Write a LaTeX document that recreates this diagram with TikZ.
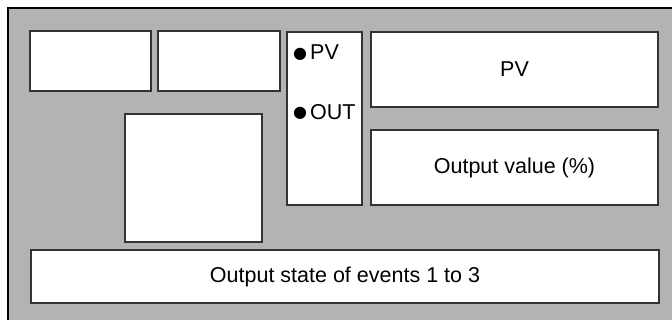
\documentclass[tikz,border=0pt]{standalone}
\usepackage{fontspec}
\setmainfont{Liberation Sans}
\newfontfamily\dotfont{DejaVu Sans}
\usepackage{xcolor}
\definecolor{panelgray}{RGB}{179,179,179}
\definecolor{edgegray}{RGB}{51,51,51}
\usepackage{tikz}

\newcommand{\lampdot}{\raisebox{1.5pt}{\dotfont\fontsize{16}{16}\selectfont ●}\hspace{3pt}}

\begin{document}
\begin{tikzpicture}[x=1pt, y=-1pt, font=\fontsize{21.5}{25}\selectfont,
  panel/.style={draw=edgegray, line width=1.2pt, fill=white, inner sep=0pt},
  item/.style={anchor=west, inner sep=0pt}]

\useasboundingbox (0,0) rectangle (672,320);
\draw[line width=2pt, fill=panelgray] (8,8) rectangle (690,340);

% upper left blank panels
\node[panel, minimum width=121pt, minimum height=60pt] (blankA) at (90.5,61) {};
\node[panel, minimum width=122pt, minimum height=60pt] (blankB) at (219,61) {};
\node[panel, minimum width=137pt, minimum height=128pt] (blankC) at (193.5,178) {};

% indicator column
\node[panel, minimum width=75pt, minimum height=173pt] (lamps) at (324.5,118.5) {};
\node[item] (lampPV) at (293,52.5) {\lampdot PV};
\node[item] (lampOUT) at (293,112) {\lampdot OUT};

% value displays
\node[panel, minimum width=287pt, minimum height=75pt] (pv) at (514.5,69.5) {PV};
\node[panel, minimum width=287pt, minimum height=75pt] (outval) at (514.5,167.5) {Output value (\%)};

% event row
\node[panel, minimum width=628pt, minimum height=53pt] (events) at (345,276.5) {Output state of events 1 to 3};

\end{tikzpicture}
\end{document}
